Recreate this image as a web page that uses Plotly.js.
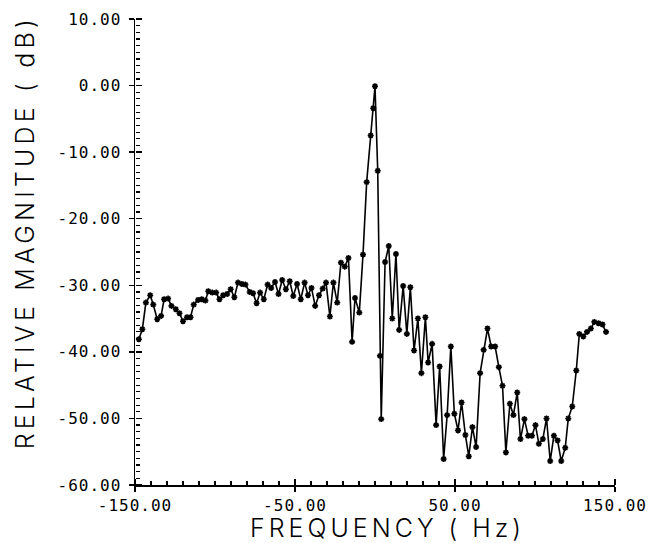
<!DOCTYPE html>
<html>
<head>
<meta charset="utf-8">
<script src="https://cdn.plot.ly/plotly-3.0.1.min.js"></script>
<style>
  html, body { margin: 0; padding: 0; background: #fff; }
  #chart { width: 657px; height: 543px; }
</style>
</head>
<body>
<div id="chart"></div>
<script>
// Frequency (Hz) of each plotted sample
const freqHz = [-147.6,-145.4,-143.2,-140.5,-138.6,-136.1,-133.7,-131.8,-129.3,-127.2,
  -124.5,-122.2,-120.0,-117.5,-115.3,-113.3,-110.6,-108.3,-106.0,-104.2,
  -101.7,-99.3,-97.2,-94.9,-92.4,-90.2,-87.9,-85.6,-83.2,-81.0,
  -78.3,-76.2,-74.0,-71.8,-69.5,-67.1,-64.9,-62.5,-60.3,-58.0,
  -55.7,-53.3,-51.1,-48.7,-46.4,-44.0,-41.9,-39.7,-37.4,-35.0,
  -32.7,-30.6,-28.2,-26.0,-23.6,-21.3,-18.9,-16.6,-14.3,-12.5,
  -9.8,-7.5,-5.2,-2.7,-1.1,0.0,1.7,3.1,3.9,6.3,
  8.6,10.8,13.1,15.1,17.6,19.9,22.1,24.4,26.8,29.0,
  31.5,33.2,35.7,38.2,40.4,42.9,45.1,47.4,49.6,51.9,
  54.1,56.5,58.6,60.9,63.2,65.7,67.9,70.3,72.6,75.1,
  77.4,79.7,81.8,84.3,86.5,88.9,90.9,93.4,95.7,98.1,
  100.3,102.4,104.9,107.2,109.5,111.8,114.1,116.4,118.9,120.8,
  123.3,125.8,127.7,130.2,132.5,134.9,137.1,139.7,142.2,144.4];

// Relative magnitude (dB) of each sample
const magDb = [-38.1,-36.6,-32.6,-31.5,-32.9,-35.1,-34.6,-32.1,-32.0,-33.1,
  -33.6,-34.2,-35.4,-34.8,-34.8,-32.9,-32.2,-32.1,-32.3,-30.9,
  -31.1,-31.1,-32.1,-31.5,-31.3,-30.6,-31.8,-29.6,-29.8,-29.9,
  -31.0,-31.2,-32.7,-31.1,-32.1,-29.9,-30.4,-29.5,-31.3,-29.2,
  -30.6,-29.4,-31.6,-29.8,-32.1,-29.6,-31.5,-30.4,-33.1,-31.5,
  -30.5,-29.6,-34.7,-29.6,-32.6,-26.6,-27.2,-25.9,-38.5,-31.9,
  -34.1,-25.4,-14.5,-7.5,-3.4,-0.1,-12.8,-40.6,-50.1,-26.5,
  -24.1,-35.0,-25.3,-36.7,-30.1,-37.3,-30.3,-39.8,-35.0,-43.2,
  -34.8,-41.6,-38.8,-51.0,-42.2,-56.1,-49.5,-39.2,-49.3,-51.8,
  -47.6,-52.5,-55.7,-51.3,-54.3,-43.2,-39.7,-36.5,-39.2,-39.2,
  -42.3,-45.1,-55.1,-47.8,-49.5,-46.1,-53.1,-50.1,-52.6,-52.6,
  -51.0,-53.8,-53.1,-50.0,-56.4,-52.6,-53.3,-56.4,-54.4,-50.0,
  -48.2,-42.8,-37.3,-37.7,-37.0,-36.5,-35.5,-35.7,-35.9,-37.0];

// Tick values and labels
const xTickVals = [-150, -50, 50, 150];
const xTickLabels = ["-150.00", "-50.00", "50.00", "150.00"];
const yTickVals = [-60, -50, -40, -30, -20, -10, 0, 10];
const yTickLabels = ["-60.00", "-50.00", "-40.00", "-30.00", "-20.00", "-10.00", "0.00", "10.00"];
const xMinorStep = 10;   // Hz between the small inside ticks
const yMinorStep = 1;    // dB between the small inside ticks

const xTitle = "FREQUENCY ( Hz)";
const yTitle = "RELATIVE MAGNITUDE ( dB)";

const tickFont = { family: "DejaVu Sans Mono, Liberation Mono, monospace", size: 16, color: "#000" };
const titleFont = { family: "Inter, DejaVu Sans, Liberation Sans, sans-serif", size: 25, color: "#000", weight: 300 };

const xRange = [xTickVals[0], xTickVals[xTickVals.length - 1]];
const yRange = [yTickVals[0], yTickVals[yTickVals.length - 1]];

const dataTrace = {
  x: freqHz,
  y: magDb,
  type: "scatter",
  mode: "lines+markers",
  line: { color: "#000", width: 1.6 },
  marker: { symbol: "asterisk-open", size: 5, color: "#000", line: { color: "#000", width: 1.6 } }
};

// invisible copies so the tick-only overlay axes are drawn
function ghost(xa, ya) {
  return { x: freqHz, y: magDb, xaxis: xa, yaxis: ya, type: "scatter", mode: "lines",
           opacity: 0, line: { color: "rgba(0,0,0,0)", width: 0.1 }, hoverinfo: "skip" };
}

// tick-only axes placed on the frame edges, ticking into the plot area
function combX(step, len, width) {
  return { overlaying: "x", side: "top", anchor: "free", position: 0, range: xRange,
           tickmode: "linear", tick0: xRange[0], dtick: step,
           ticks: "outside", ticklen: len, tickwidth: width, tickcolor: "#000",
           showticklabels: false, showline: false, showgrid: false, zeroline: false };
}
function combY(step, len, width) {
  return { overlaying: "y", side: "right", anchor: "free", position: 0, range: yRange,
           tickmode: "linear", tick0: yRange[0], dtick: step,
           ticks: "outside", ticklen: len, tickwidth: width, tickcolor: "#000",
           showticklabels: false, showline: false, showgrid: false, zeroline: false };
}

const layout = {
  width: 657,
  height: 543,
  margin: { l: 135, r: 42, t: 19, b: 58 },
  paper_bgcolor: "#fff",
  plot_bgcolor: "#fff",
  showlegend: false,
  xaxis: {
    range: xRange,
    tickmode: "linear", tick0: xTickVals[0], dtick: xTickVals[1] - xTickVals[0],
    tickformat: ".2f",
    ticks: "outside", ticklen: 5, tickwidth: 1.5, tickcolor: "#000",
    ticklabelstandoff: 0, tickfont: tickFont,
    showline: true, linecolor: "#000", linewidth: 1.5,
    showgrid: false, zeroline: false
  },
  yaxis: {
    range: yRange,
    tickmode: "linear", tick0: yTickVals[0], dtick: yTickVals[1] - yTickVals[0],
    tickformat: ".2f",
    ticks: "outside", ticklen: 5, tickwidth: 1.5, tickcolor: "#000",
    ticklabelstandoff: 4, tickfont: tickFont,
    showline: true, linecolor: "#000", linewidth: 1.5,
    showgrid: false, zeroline: false
  },
  xaxis2: combX(xMinorStep, 4, 1.3),
  yaxis2: combY(yMinorStep, 4, 1.2),
  xaxis3: combX(xTickVals[1] - xTickVals[0], 6, 1.5),
  yaxis3: combY(yTickVals[1] - yTickVals[0], 6, 1.5),
  annotations: [
    { text: xTitle, xref: "paper", yref: "paper", x: 0.525, y: -0.093, xanchor: "center", yanchor: "middle", showarrow: false, font: titleFont },
    { text: yTitle, xref: "paper", yref: "paper", x: -0.229, y: 0.541, xanchor: "center", yanchor: "middle", textangle: -90, showarrow: false, font: titleFont }
  ]
};

// show tick labels exactly as listed (plain hyphen) and widen the plotter-style lettering
function finishText() {
  const all = xTickLabels.concat(yTickLabels);
  document.querySelectorAll(".xtick text, .ytick text").forEach(function (t) {
    const plain = t.textContent.replace("\u2212", "-");
    if (all.indexOf(plain) >= 0) t.textContent = plain;
    t.setAttribute("letter-spacing", "1");
  });
  document.querySelectorAll(".annotation-text").forEach(function (t, i) {
    t.setAttribute("letter-spacing", i === 1 ? "4.2" : "4");
  });
}

Plotly.newPlot("chart", [dataTrace, ghost("x2", "y2"), ghost("x3", "y3")], layout, { staticPlot: true }).then(finishText);
</script>
</body>
</html>
